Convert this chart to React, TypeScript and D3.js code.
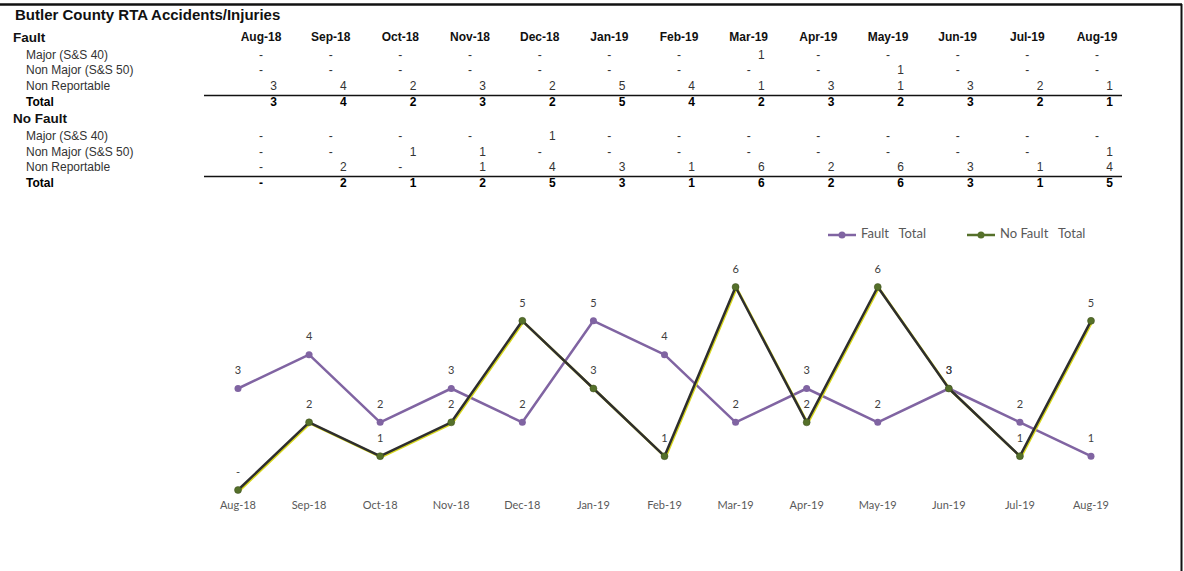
import React from 'react'
import * as d3 from 'd3'

const months = ['Aug-18', 'Sep-18', 'Oct-18', 'Nov-18', 'Dec-18', 'Jan-19', 'Feb-19', 'Mar-19', 'Apr-19', 'May-19', 'Jun-19', 'Jul-19', 'Aug-19']

const faultMajor = [0, 0, 0, 0, 0, 0, 0, 1, 0, 0, 0, 0, 0]
const faultNonMajor = [0, 0, 0, 0, 0, 0, 0, 0, 0, 1, 0, 0, 0]
const faultNonRep = [3, 4, 2, 3, 2, 5, 4, 1, 3, 1, 3, 2, 1]
const faultTotal = [3, 4, 2, 3, 2, 5, 4, 2, 3, 2, 3, 2, 1]

const noFaultMajor = [0, 0, 0, 0, 1, 0, 0, 0, 0, 0, 0, 0, 0]
const noFaultNonMajor = [0, 0, 1, 1, 0, 0, 0, 0, 0, 0, 0, 0, 1]
const noFaultNonRep = [0, 2, 0, 1, 4, 3, 1, 6, 2, 6, 3, 1, 4]
const noFaultTotal = [0, 2, 1, 2, 5, 3, 1, 6, 2, 6, 3, 1, 5]

const width = 1184
const height = 571

const tableFont = '"Liberation Sans", Arial, sans-serif'
const chartFont = 'Lato, "Open Sans", sans-serif'

const purple = '#8064a2'
const darkLine = '#2e2e2e'
const olive = '#55702a'

// table column positions (center of month header)
const colX = d3.scalePoint<string>().domain(months).range([261, 1097])

// chart scales
const xScale = d3.scalePoint<string>().domain(months).range([238, 1091])
const yScale = d3.scaleLinear().domain([0, 6]).range([490, 287])

const fmt = (v: number) => (v === 0 ? '-' : String(v))

type Row = { label: string; values: number[]; y: number; bold?: boolean }

const TableRow = ({ label, values, y, bold }: Row) => {
    const fill = bold ? '#000' : '#333'
    const weight = bold ? 'bold' : 'normal'
    return (
        <g fontSize={12} fontWeight={weight} fill={fill}>
            <text x={26} y={y}>{label}</text>
            {values.map((v, i) => (
                v === 0
                    ? <text key={i} x={colX(months[i])} y={y} textAnchor="middle">-</text>
                    : <text key={i} x={(colX(months[i]) as number) + 16} y={y} textAnchor="end">{v}</text>
            ))}
        </g>
    )
}

const App = () => {
    const line = d3.line<number>()
        .x((d, i) => xScale(months[i]) as number)
        .y(d => yScale(d))

    return (
        <svg width={width} height={height} style={{ position: 'absolute', left: 0, top: 0, background: '#fff' }}>
            {/* frame */}
            <line x1={0} x2={1182} y1={4.5} y2={4.5} stroke="#111" strokeWidth={2.5} />
            <line x1={1181.5} x2={1181.5} y1={4} y2={571} stroke="#111" strokeWidth={2} />

            <g fontFamily={tableFont} dominantBaseline="middle">
                <text x={15} y={16} fontSize={15} fontWeight="bold" fill="#111">Butler County RTA Accidents/Injuries</text>
                <text x={13} y={38} fontSize={13.5} fontWeight="bold" fill="#111">Fault</text>
                {months.map(m => (
                    <text key={m} x={colX(m)} y={38} textAnchor="middle" fontSize={12} fontWeight="bold" fill="#111">{m}</text>
                ))}
                <TableRow label="Major (S&S 40)" values={faultMajor} y={56} />
                <TableRow label="Non Major (S&S 50)" values={faultNonMajor} y={71} />
                <TableRow label="Non Reportable" values={faultNonRep} y={87} />
                <line x1={204} x2={1122} y1={95.5} y2={95.5} stroke="#111" strokeWidth={1.5} />
                <TableRow label="Total" values={faultTotal} y={103} bold />

                <text x={13} y={119} fontSize={13.5} fontWeight="bold" fill="#111">No Fault</text>
                <TableRow label="Major (S&S 40)" values={noFaultMajor} y={137} />
                <TableRow label="Non Major (S&S 50)" values={noFaultNonMajor} y={153} />
                <TableRow label="Non Reportable" values={noFaultNonRep} y={168} />
                <line x1={204} x2={1122} y1={176.5} y2={176.5} stroke="#111" strokeWidth={1.5} />
                <TableRow label="Total" values={noFaultTotal} y={184} bold />
            </g>

            {/* legend */}
            <g fontFamily={chartFont} fontSize={13} fill="#595959" dominantBaseline="middle">
                <line x1={828} x2={856} y1={235} y2={235} stroke={purple} strokeWidth={2.5} />
                <circle cx={842} cy={235} r={3.5} fill={purple} />
                <text x={861} y={235}>Fault&#160;&#160;&#160;Total</text>
                <line x1={967} x2={995} y1={235} y2={235} stroke={olive} strokeWidth={2.5} />
                <circle cx={981} cy={235} r={3.5} fill={olive} />
                <text x={1000} y={235}>No Fault&#160;&#160;&#160;Total</text>
            </g>

            {/* series */}
            <path d={line(faultTotal) || ''} fill="none" stroke={purple} strokeWidth={2.5} strokeLinejoin="round" />
            {faultTotal.map((v, i) => (
                <circle key={'f' + i} cx={xScale(months[i])} cy={yScale(v)} r={3.5} fill={purple} />
            ))}
            <path d={line(noFaultTotal) || ''} fill="none" stroke="#d8d820" strokeWidth={2.5} transform="translate(1,1)" strokeLinejoin="round" />
            <path d={line(noFaultTotal) || ''} fill="none" stroke={darkLine} strokeWidth={2.5} strokeLinejoin="round" />
            {noFaultTotal.map((v, i) => (
                <circle key={'n' + i} cx={xScale(months[i])} cy={yScale(v)} r={3.5} fill={olive} stroke="#3a4a1a" strokeWidth={0.5} />
            ))}

            {/* data labels */}
            <g fontFamily={chartFont} fontSize={11} fill="#404040" textAnchor="middle" dominantBaseline="middle">
                {faultTotal.map((v, i) => (
                    <text key={'fl' + i} x={xScale(months[i])} y={yScale(v) - 17}>{fmt(v)}</text>
                ))}
                {noFaultTotal.map((v, i) => (
                    <text key={'nl' + i} x={xScale(months[i])} y={yScale(v) - 17}>{fmt(v)}</text>
                ))}
            </g>

            {/* x axis labels */}
            <g fontFamily={chartFont} fontSize={11} fill="#595959" textAnchor="middle" dominantBaseline="middle">
                {months.map(m => (
                    <text key={m} x={xScale(m)} y={506}>{m}</text>
                ))}
            </g>
        </svg>
    )
}

export default App
